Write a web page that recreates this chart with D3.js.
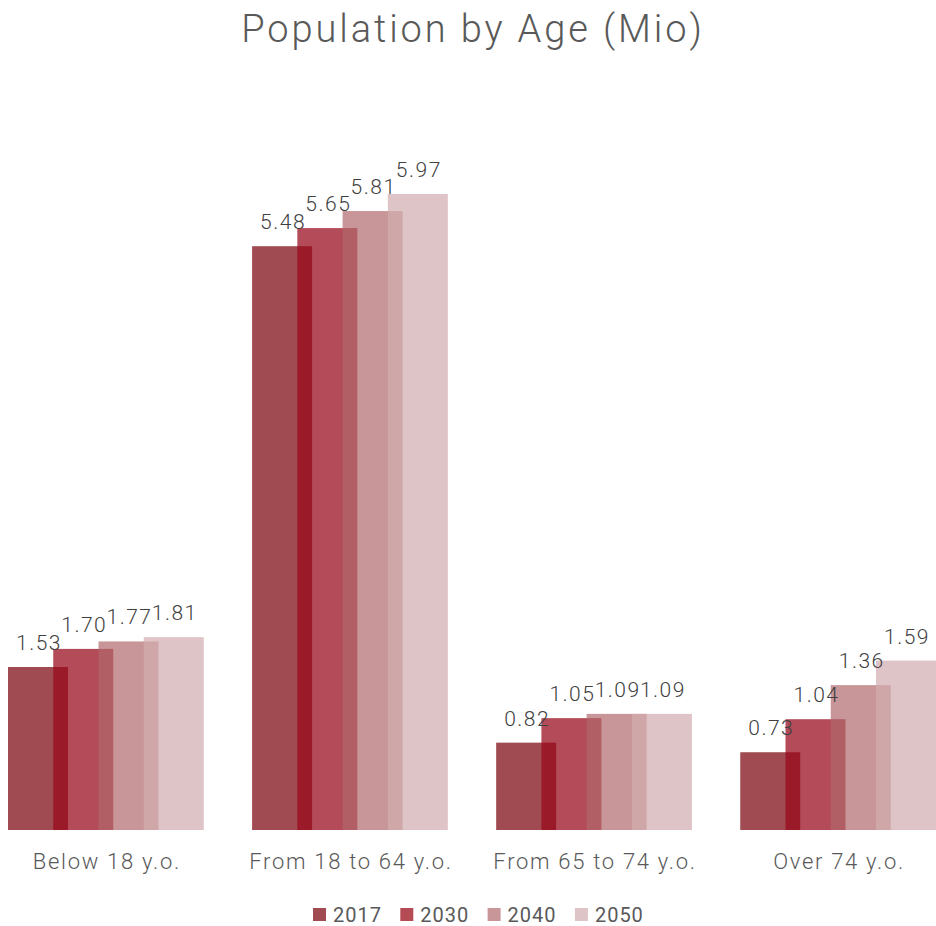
<!DOCTYPE html>
<html>
<head>
<meta charset="utf-8">
<script src="https://cdn.jsdelivr.net/npm/d3@7"></script>
<style>
  body { margin: 0; background: #fff; }
  svg text { font-family: "Roboto", "Liberation Sans", sans-serif; }
</style>
</head>
<body>
<div id="chart"></div>
<script>
const categories = ["Below 18 y.o.", "From 18 to 64 y.o.", "From 65 to 74 y.o.", "Over 74 y.o."];
const series = ["2017", "2030", "2040", "2050"];
const values2017 = [1.53, 5.48, 0.82, 0.73];
const values2030 = [1.70, 5.65, 1.05, 1.04];
const values2040 = [1.77, 5.81, 1.09, 1.36];
const values2050 = [1.81, 5.97, 1.09, 1.59];

const seriesValues = [values2017, values2030, values2040, values2050];
// fill + opacity so overlaps darken like the original
const fills = ["#a04b52", "#98081a", "#af676a", "#d1adb0"];
const opac = [1, 0.73, 0.69, 0.72];
const legendColors = ["#a04b52", "#b44b55", "#c89698", "#dec4c6"];

const width = 936, height = 926;
const svg = d3.select("#chart").append("svg")
    .attr("width", width)
    .attr("height", height);

// title
svg.append("text")
    .attr("x", 473)
    .attr("y", 42)
    .attr("text-anchor", "middle")
    .attr("font-size", 38)
    .attr("font-weight", 300)
    .attr("letter-spacing", 2.9)
    .attr("fill", "#595959")
    .text("Population by Age (Mio)");

const barW = 60;
const x0 = d3.scaleBand().domain(categories).range([8, 936]).paddingInner(0.198).paddingOuter(0);
const x1 = d3.scalePoint().domain(series).range([0, x0.bandwidth() - barW]);
const y = d3.scaleLinear().domain([0, 5.97]).range([830, 194]);

const rows = [];
series.forEach((s, si) => {
    categories.forEach((c, ci) => {
        rows.push({ s, si, c, v: seriesValues[si][ci] });
    });
});

svg.append("g").selectAll("rect")
    .data(rows)
    .enter()
    .append("rect")
    .attr("x", d => x0(d.c) + x1(d.s))
    .attr("y", d => y(d.v))
    .attr("width", barW)
    .attr("height", d => y(0) - y(d.v))
    .attr("fill", d => fills[d.si])
    .attr("fill-opacity", d => opac[d.si]);

// value labels
svg.append("g").selectAll("text")
    .data(rows)
    .enter()
    .append("text")
    .attr("x", d => x0(d.c) + x1(d.s) + barW / 2 + 1)
    .attr("y", d => y(d.v) - 17)
    .attr("text-anchor", "middle")
    .attr("font-size", 21)
    .attr("font-weight", 300)
    .attr("letter-spacing", 1.5)
    .attr("fill", "#404040")
    .text(d => d3.format(".2f")(d.v));

// category axis labels
svg.append("g").selectAll("text")
    .data(categories)
    .enter()
    .append("text")
    .attr("x", d => x0(d) + x0.bandwidth() / 2 + 1)
    .attr("y", 869)
    .attr("text-anchor", "middle")
    .attr("font-size", 22)
    .attr("font-weight", 300)
    .attr("letter-spacing", 1.7)
    .attr("fill", "#595959")
    .text(d => d);

// legend
const legend = svg.append("g")
    .selectAll("g")
    .data(series)
    .enter()
    .append("g")
    .attr("transform", (d, i) => `translate(${313 + i * 87.3}, 908)`);

legend.append("rect")
    .attr("width", 13)
    .attr("height", 13)
    .attr("fill", (d, i) => legendColors[i]);

legend.append("text")
    .attr("x", 20)
    .attr("y", 14)
    .attr("font-size", 20)
    .attr("letter-spacing", 1)
    .attr("fill", "#595959")
    .text(d => d);
</script>
</body>
</html>
